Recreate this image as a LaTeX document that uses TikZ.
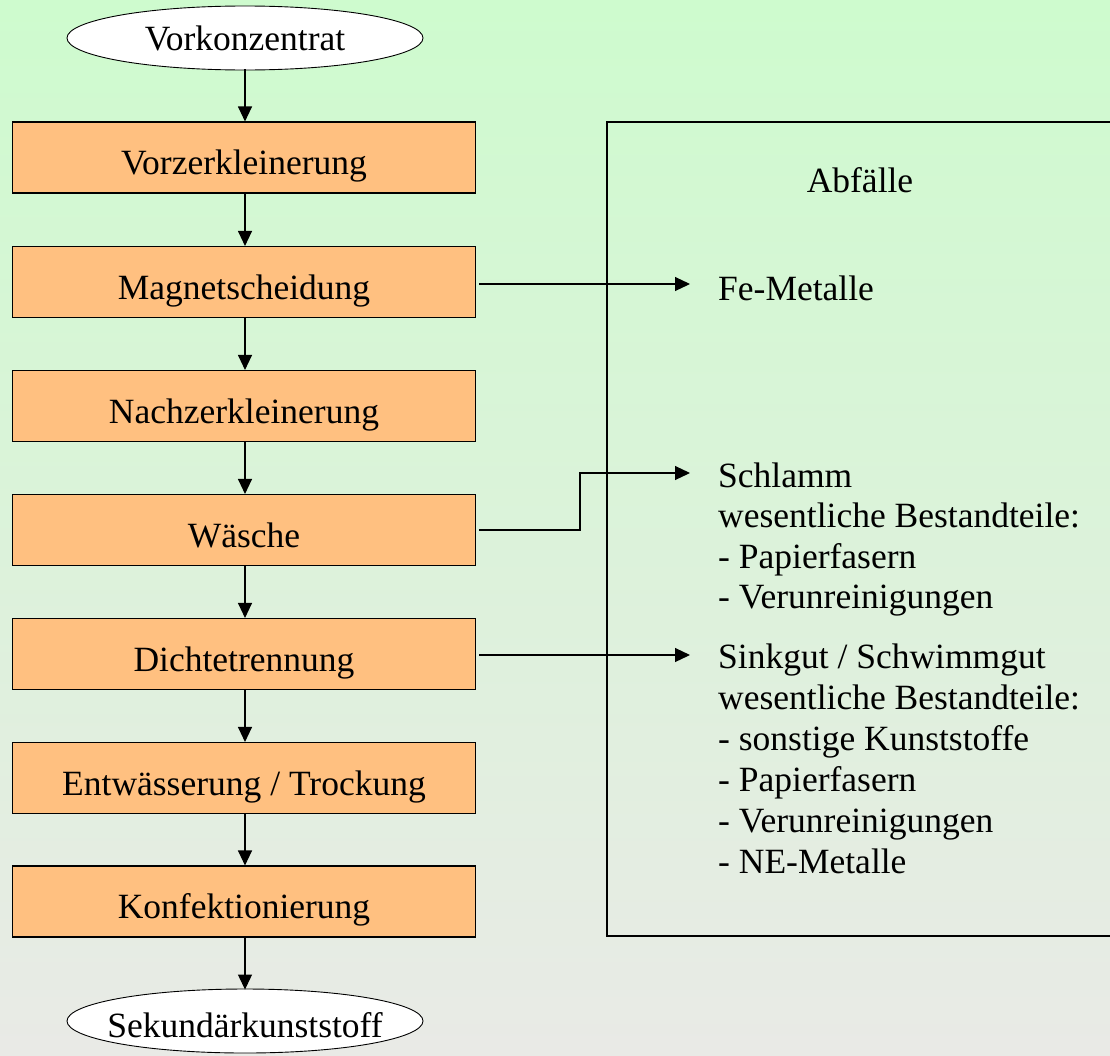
\documentclass[tikz,border=0pt]{standalone}
\usepackage{fontspec}
\setmainfont{Liberation Serif}
\usetikzlibrary{arrows.meta,shapes.geometric}
\definecolor{bgtop}{RGB}{206,251,206}
\definecolor{bgbot}{RGB}{233,234,230}
\definecolor{boxfill}{RGB}{255,192,128}
\tikzset{
  every node/.style={font=\fontsize{35.5}{40.5}\selectfont},
  stepbox/.style={draw=black,line width=1.1pt,fill=boxfill,minimum width=463pt,minimum height=71pt,inner sep=0pt,text height=34pt,text depth=0pt},
  terminal/.style={draw=black,line width=0.9pt,fill=white,ellipse,minimum width=356pt,minimum height=64pt,inner xsep=-40pt,inner ysep=0pt,text depth=0pt},
  flow/.style={line width=1.1pt,-{Triangle[length=15pt,width=14pt]}},
  txt/.style={anchor=base west,inner sep=0pt}
}
\begin{document}
\begin{tikzpicture}[x=1pt,y=-1pt]
\useasboundingbox (0,0) rectangle (1110,1055);
\clip (0,0) rectangle (1110,1055);
\shade[top color=bgtop,bottom color=bgbot] (0,0) rectangle (1110,1055);
% waste box
\draw[line width=1.1pt] (607,122) rectangle (1130,936);
\node[inner sep=0pt] (abf) at (860,180) {Abfälle};
% process
\node[terminal,text height=24pt] (start) at (245,38) {Vorkonzentrat};
\node[stepbox] (b1) at (244,157.5) {Vorzerkleinerung};
\node[stepbox] (b2) at (244,282) {Magnetscheidung};
\node[stepbox] (b3) at (244,406) {Nachzerkleinerung};
\node[stepbox] (b4) at (244,530) {Wäsche};
\node[stepbox] (b5) at (244,654) {Dichtetrennung};
\node[stepbox] (b6) at (244,778) {Entwässerung / Trockung};
\node[stepbox] (b7) at (244,901.5) {Konfektionierung};
\node[terminal,text height=32pt] (end) at (245,1021) {Sekundärkunststoff};
\draw[flow] ([yshift=1pt]start.south) -- (start.south |- b1.north);
\foreach \a/\b in {b1/b2,b2/b3,b3/b4,b4/b5,b5/b6,b6/b7}
  \draw[flow] ([xshift=1pt]\a.south) -- ([xshift=1pt]\b.north);
\draw[flow] (end.north |- b7.south) -- ([yshift=-1pt]end.north);
% waste texts
\node[txt] (fe) at (718,300) {Fe-Metalle};
\node[txt] (s1) at (718,487) {Schlamm};
\node[txt] (s2) at (718,527) {wesentliche Bestandteile:};
\node[txt] (s3) at (718,568) {- Papierfasern};
\node[txt] (s4) at (718,608) {- Verunreinigungen};
\node[txt] (k1) at (718,668) {Sinkgut / Schwimmgut};
\node[txt] (k2) at (718,709) {wesentliche Bestandteile:};
\node[txt] (k3) at (718,750) {- sonstige Kunststoffe};
\node[txt] (k4) at (718,791) {- Papierfasern};
\node[txt] (k5) at (718,832) {- Verunreinigungen};
\node[txt] (k6) at (718,873) {- NE-Metalle};
\coordinate (tfe) at (690,284);
\coordinate (ts) at (690,473);
\coordinate (tk) at (690,655);
\draw[flow] ([xshift=3pt]b2.east |- tfe) -- (tfe);
\draw[flow] ([xshift=3pt]b4.east) -- (580,530) |- (ts);
\draw[flow] ([xshift=3pt]b5.east |- tk) -- (tk);
\end{tikzpicture}
\end{document}
